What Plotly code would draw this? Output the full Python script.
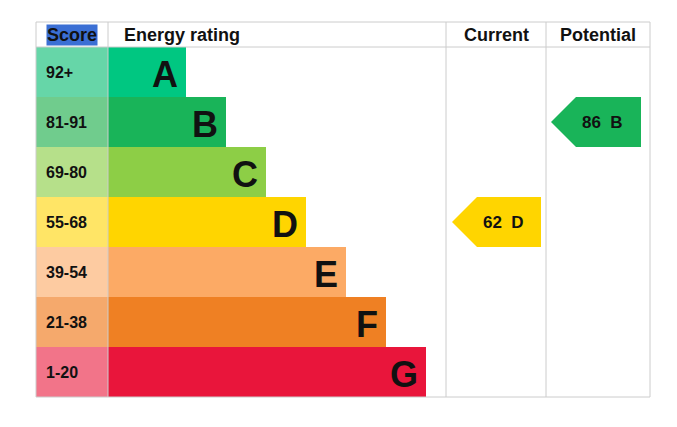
import plotly.graph_objects as go

bands = ["A", "B", "C", "D", "E", "F", "G"]
scores = ["92+", "81-91", "69-80", "55-68", "39-54", "21-38", "1-20"]
bar_len = [78, 118, 158, 198, 238, 278, 318]
colors = ["#00c781", "#19b459", "#8dce46", "#ffd500", "#fcaa65", "#ef8023", "#e9153b"]
score_colors = ["#66d6a8", "#70cc8d", "#b6e08a", "#ffe566", "#fdcba1", "#f5a96c", "#f27489"]
current_val, current_band = 62, "D"
potential_val, potential_band = 86, "B"

row_h = 50
top = 47
fig = go.Figure()
rows_y = [top + row_h * i + row_h / 2 for i in range(len(bands))]

fig.add_trace(go.Bar(y=rows_y, x=[72] * 7, base=36, orientation="h", width=row_h,
                     marker=dict(color=score_colors, line=dict(width=0)), hoverinfo="skip"))
fig.add_trace(go.Bar(y=rows_y, x=bar_len, base=108, orientation="h", width=row_h,
                     marker=dict(color=colors, line=dict(width=0)), hoverinfo="skip"))

for y, s, b, L in zip(rows_y, scores, bands, bar_len):
    fig.add_annotation(x=44, y=y, text="<b>%s</b>" % s, showarrow=False, xanchor="left",
                       font=dict(size=16, color="#111", family="Liberation Sans"))
    fig.add_annotation(x=108 + L - 6, y=y + 2, text="<b>%s</b>" % b, showarrow=False, xanchor="right",
                       font=dict(size=36, color="#111", family="Liberation Sans"))

grid = "#cccccc"
shapes = []
for x in [36, 108, 446, 546, 650]:
    shapes.append(dict(type="line", x0=x, x1=x, y0=22, y1=397, line=dict(color=grid, width=1)))
for y in [22, 47, 397]:
    shapes.append(dict(type="line", x0=36, x1=650, y0=y, y1=y, line=dict(color=grid, width=1)))

def arrow(x0, x1, band, val):
    i = bands.index(band)
    yc = rows_y[i]
    h = row_h / 2
    tip = 25
    path = f"M{x0},{yc} L{x0+tip},{yc-h} L{x1},{yc-h} L{x1},{yc+h} L{x0+tip},{yc+h} Z"
    shapes.append(dict(type="path", path=path, fillcolor=colors[i], line=dict(width=0)))
    fig.add_annotation(x=(x0 + tip + x1) / 2 - 6, y=yc, text=f"<b>{val}  {band}</b>", showarrow=False,
                       font=dict(size=17, color="#111", family="Liberation Sans"))

arrow(452, 541, current_band, current_val)
arrow(551, 641, potential_band, potential_val)

fig.add_annotation(x=72, y=35, text="<b>Score</b>", showarrow=False, bgcolor="#3b6fd4",
                   font=dict(size=18, color="#111", family="Liberation Sans"), borderpad=0)
fig.add_annotation(x=122, y=35, text="<b>Energy rating</b>", showarrow=False, xanchor="left",
                   font=dict(size=18, color="#111", family="Liberation Sans"))
fig.add_annotation(x=496, y=35, text="<b>Current</b>", showarrow=False,
                   font=dict(size=18, color="#111", family="Liberation Sans"))
fig.add_annotation(x=598, y=35, text="<b>Potential</b>", showarrow=False,
                   font=dict(size=18, color="#111", family="Liberation Sans"))

fig.update_layout(width=677, height=427, margin=dict(l=0, r=0, t=0, b=0),
                  plot_bgcolor="white", paper_bgcolor="white", showlegend=False,
                  shapes=shapes, bargap=0, barmode="overlay",
                  xaxis=dict(range=[8, 685], visible=False, fixedrange=True),
                  yaxis=dict(range=[435, 8], visible=False, fixedrange=True))
fig.write_html("out.html")
